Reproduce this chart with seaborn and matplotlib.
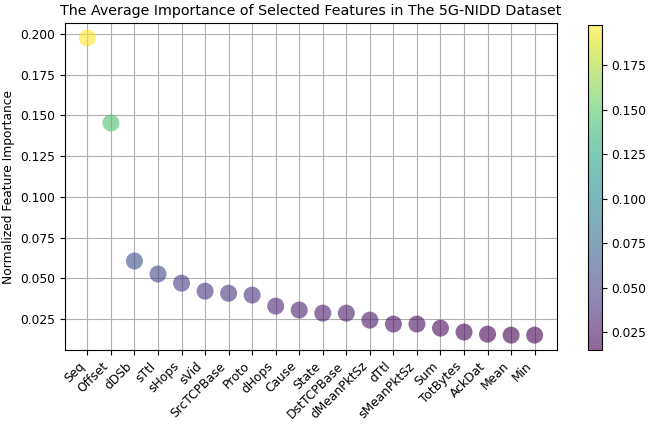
import matplotlib
matplotlib.use("Agg")
import matplotlib.pyplot as plt
import seaborn as sns
import numpy as np
from matplotlib.cm import ScalarMappable
from matplotlib.colors import Normalize

features = ["Seq", "Offset", "dDSb", "sTtl", "sHops", "sVid", "SrcTCPBase", "Proto",
            "dHops", "Cause", "State", "DstTCPBase", "dMeanPktSz", "dTtl", "sMeanPktSz",
            "Sum", "TotBytes", "AckDat", "Mean", "Min"]
importance = [0.1975, 0.1453, 0.0606, 0.0526, 0.0470, 0.0421, 0.0408, 0.0397,
              0.0329, 0.0305, 0.0286, 0.0286, 0.0243, 0.0219, 0.0219,
              0.0194, 0.0170, 0.0157, 0.0151, 0.0151]

plt.rcParams['font.family'] = ['DejaVu Sans']
plt.rcParams['font.size'] = 8.8
fig = plt.figure(figsize=(6.51, 4.25), dpi=100)
ax = fig.add_axes([65/651, 1 - 350/425, (557-65)/651, (350-23)/425])
cax = fig.add_axes([588/651, 1 - 350/425, 14/651, (350-25)/425])

vmin, vmax = min(importance), max(importance)
norm = Normalize(vmin=vmin, vmax=vmax)
sns.scatterplot(x=features, y=importance, hue=importance, palette="viridis",
                hue_norm=norm, s=150, alpha=0.6, edgecolor="none", legend=False, ax=ax)
ax.grid(True, color="#b0b0b0", linewidth=0.8)
ax.set_axisbelow(True)
ax.set_title("The Average Importance of Selected Features in The 5G-NIDD Dataset", fontsize=10.3)
ax.set_ylabel("Normalized Feature Importance")
ax.set_xlabel("")
plt.setp(ax.get_xticklabels(), rotation=45, ha="right", rotation_mode="default")

sm = ScalarMappable(norm=norm, cmap="viridis")
sm.set_array([])
cbar = fig.colorbar(sm, cax=cax, alpha=0.6)
cbar.outline.set_linewidth(0.8)

fig.savefig("out.png", dpi=100)
